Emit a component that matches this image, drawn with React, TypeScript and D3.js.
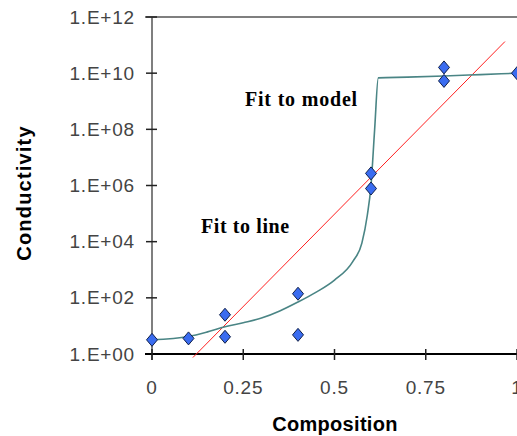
import React from 'react';
import * as d3 from 'd3';

// measured points: [composition, conductivity]
const measured: [number, number][] = [
  [0, 3.2], [0.1, 3.6], [0.2, 25], [0.2, 4.1], [0.4, 140], [0.4, 4.8],
  [0.6, 2.7e6], [0.6, 7.8e5], [0.8, 1.6e10], [0.8, 5.3e9], [1.0, 1e10],
];

// model curve
const modelComp = [0, 0.1, 0.15, 0.2, 0.25, 0.3, 0.35, 0.4, 0.45, 0.5, 0.55, 0.575, 0.59, 0.6, 0.61, 0.62, 0.7, 0.8, 0.9, 1.0];
const modelCond = [3.2, 4.2, 6, 9.3, 13, 19, 34, 71, 160, 430, 1950, 8900, 8.9e4, 1e6, 1e8, 6.8e9, 7.2e9, 7.9e9, 8.9e9, 1e10];

// straight line fit in log space: log10(y) = a + b * x
const lineFit = { a: -1.6, b: 13.16 };
const lineRange = [0.112, 0.967];

const xTicks = [0, 0.25, 0.5, 0.75, 1];
const xTickLabels = ['0', '0.25', '0.5', '0.75', '1'];
const yTicks = [1, 1e2, 1e4, 1e6, 1e8, 1e10, 1e12];
const yTickLabels = ['1.E+00', '1.E+02', '1.E+04', '1.E+06', '1.E+08', '1.E+10', '1.E+12'];

const width = 517;
const height = 436;

export default function App() {
  const x = d3.scaleLinear().domain([0, 1]).range([152, 517]);
  const y = d3.scaleLog().domain([1, 1e12]).range([354, 17]);

  const modelLine = d3.line<number>()
    .x((_, i) => x(modelComp[i]))
    .y(d => y(d))
    .curve(d3.curveMonotoneX);

  const fitPts = lineRange.map(c => [c, Math.pow(10, lineFit.a + lineFit.b * c)] as [number, number]);
  const fitLine = d3.line<[number, number]>().x(d => x(d[0])).y(d => y(d[1]));

  const sans = '"Liberation Sans", Arial, sans-serif';
  const serif = '"Liberation Serif", "Times New Roman", serif';

  return (
    <svg width={width} height={height} style={{ position: 'absolute', left: 0, top: 0, background: '#fff' }}>
      {/* top border and axes */}
      <line x1={145} x2={width} y1={y(1e12)} y2={y(1e12)} stroke="#555" strokeWidth={1.5} />
      <line x1={x(0)} x2={x(0)} y1={y(1e12)} y2={360} stroke="#555" strokeWidth={1.5} />

      {yTicks.map((t, i) => (
        <g key={'y' + i}>
          <line x1={x(0) - 6} x2={x(0) + 5} y1={y(t)} y2={y(t)} stroke="#222" strokeWidth={1.5} />
          <text x={135} y={y(t)} dy="0.35em" textAnchor="end" fontFamily={sans} fontSize={19}
            letterSpacing={0.8} fill="#444">{yTickLabels[i]}</text>
        </g>
      ))}

      <line x1={145} x2={width} y1={y(1)} y2={y(1)} stroke="#000" strokeWidth={2} />
      {xTicks.map((t, i) => (
        <g key={'x' + i}>
          <line x1={x(t)} x2={x(t)} y1={349} y2={360} stroke="#222" strokeWidth={1.5} />
          <text x={x(t)} y={394} textAnchor="middle" fontFamily={sans} fontSize={19}
            letterSpacing={0.8} fill="#444">{xTickLabels[i]}</text>
        </g>
      ))}

      {/* fits */}
      <path d={fitLine(fitPts) || ''} fill="none" stroke="#ff2020" strokeWidth={1} />
      <path d={modelLine(modelCond) || ''} fill="none" stroke="#4a8585" strokeWidth={1.6} />

      {/* measured points */}
      {measured.map((d, i) => (
        <path key={'p' + i} transform={`translate(${x(d[0])},${y(d[1])})`}
          d="M0,-6.5L5.5,0L0,6.5L-5.5,0Z" fill="#3a6cf0" stroke="#10204a" strokeWidth={1} />
      ))}

      {/* annotations */}
      <text x={245} y={106} fontFamily={serif} fontWeight="bold" fontSize={20} letterSpacing={0.8}>Fit to model</text>
      <text x={201} y={233} fontFamily={serif} fontWeight="bold" fontSize={20} letterSpacing={0.6}>Fit to line</text>

      {/* axis titles */}
      <text x={335} y={431} textAnchor="middle" fontFamily={sans} fontWeight="bold" fontSize={20}
        letterSpacing={0.3}>Composition</text>
      <text transform="translate(31,193) rotate(-90)" textAnchor="middle" fontFamily={sans} fontWeight="bold"
        fontSize={20} letterSpacing={1.2}>Conductivity</text>
    </svg>
  );
}
